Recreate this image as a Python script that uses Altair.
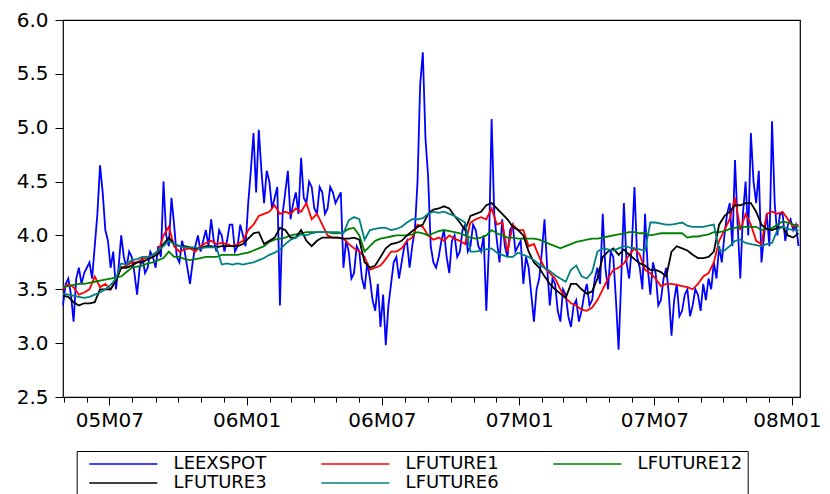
import altair as alt
import pandas as pd

series_names = ["LEEXSPOT", "LFUTURE1", "LFUTURE12", "LFUTURE3", "LFUTURE6"]
series_colors = ["#0000ff", "#ff0000", "#008000", "#000000", "#008080"]

start_date = "2005-04-30"
end_date = "2008-01-10"
n_obs = 140          # weekly observations of the futures
n_obs_spot = 279     # half-weekly observations of the spot series

leexspot = [
    3.35, 3.55, 3.6, 3.45, 3.2, 3.6, 3.7, 3.55, 3.65, 3.7, 3.75, 3.6, 3.9, 4.2, 4.65, 4.4, 4.05, 3.95, 3.7, 3.85,
    3.5, 3.7, 4.0, 3.8, 3.7, 3.85, 3.8, 3.65, 3.45, 3.7, 3.8, 3.65, 3.7, 3.85, 3.8, 3.7, 3.9, 3.8, 4.5, 4.0,
    3.9, 4.35, 4.1, 3.8, 3.75, 3.95, 3.85, 3.7, 3.55, 3.75, 3.9, 4.0, 3.85, 3.95, 4.05, 3.9, 4.15, 3.95, 3.85, 4.05,
    4.0, 3.85, 3.95, 4.1, 4.1, 3.85, 3.9, 4.1, 4.0, 3.9, 4.3, 4.6, 4.95, 4.4, 4.98, 4.6, 4.3, 4.6, 4.5, 4.25,
    4.35, 4.45, 3.35, 4.2, 4.4, 4.6, 4.15, 4.3, 4.4, 4.2, 4.72, 4.35, 4.3, 4.5, 4.45, 4.25, 4.2, 4.45, 4.4, 4.2,
    4.25, 4.45, 4.4, 4.3, 4.35, 4.4, 3.7, 3.95, 3.85, 3.6, 3.65, 3.9, 3.85, 3.6, 3.5, 3.75, 3.6, 3.4, 3.3, 3.55,
    3.15, 3.45, 2.98, 3.35, 3.55, 3.75, 3.8, 3.6, 3.75, 3.9, 3.95, 3.7, 3.9, 4.05, 4.5, 5.4, 5.7, 4.9, 4.55, 3.9,
    3.75, 3.7, 3.8, 3.95, 4.05, 3.8, 3.65, 3.95, 4.0, 3.8, 3.85, 4.05, 4.1, 3.85, 3.9, 4.1, 4.05, 3.9, 3.85, 4.0,
    3.3, 3.9, 5.08, 4.2, 3.95, 3.75, 4.15, 3.9, 3.8, 4.05, 4.1, 3.85, 3.9, 3.95, 3.55, 3.8, 3.7, 3.45, 3.2, 3.5,
    3.6, 3.85, 4.15, 3.7, 3.35, 3.6, 3.55, 3.3, 3.2, 3.5, 3.45, 3.25, 3.15, 3.35, 3.4, 3.2, 3.3, 3.45, 3.55, 3.35,
    3.4, 3.6, 3.7, 3.55, 4.2, 3.7, 3.5, 3.85, 3.8, 3.4, 2.94, 3.6, 4.3, 3.75, 3.6, 3.9, 4.45, 3.8, 3.7, 3.5,
    4.2, 3.7, 3.45, 3.75, 3.65, 3.35, 3.4, 3.6, 3.7, 3.45, 3.07, 3.4, 3.55, 3.25, 3.3, 3.45, 3.5, 3.25, 3.35, 3.5,
    3.45, 3.3, 3.55, 3.4, 3.6, 3.5, 3.75, 3.6, 3.9, 3.75, 4.0, 4.2, 4.3, 3.9, 4.7, 4.1, 3.6, 4.2, 4.5, 4.0,
    4.95, 4.5, 4.3, 4.6, 3.75, 4.0, 4.2, 3.9, 5.06, 4.3, 4.0, 4.2, 4.2, 3.95, 4.1, 4.15, 4.05, 4.1, 3.9,
]

lfuture1 = [
    3.5, 3.55, 3.52, 3.45, 3.47, 3.5, 3.62, 3.52, 3.55, 3.5,
    3.58, 3.7, 3.72, 3.75, 3.75, 3.78, 3.8, 3.82, 3.85, 4.0,
    4.08, 3.9, 3.85, 3.87, 3.88, 3.85, 3.9, 3.93, 3.95, 3.92,
    3.93, 3.92, 3.9, 3.92, 3.95, 4.05, 4.1, 4.18, 4.2, 4.22,
    4.28, 4.2, 4.22, 4.2, 4.25, 4.22, 4.3, 4.15, 4.2, 4.1,
    4.0, 3.98, 3.98, 3.97, 3.92, 3.88, 3.85, 3.8, 3.68, 3.7,
    3.72, 3.78, 3.85, 3.85, 3.88, 3.95, 3.98, 4.1, 4.08, 4.0,
    3.96, 3.98, 3.95, 4.0, 3.97, 3.95, 3.92, 4.12, 4.15, 4.17,
    4.15, 4.25, 4.1, 4.12, 3.85, 4.1, 4.05, 4.05, 3.9, 3.92,
    3.8, 3.7, 3.65, 3.6, 3.5, 3.42, 3.37, 3.35, 3.31, 3.3,
    3.33, 3.4, 3.5, 3.6, 3.68, 3.7, 3.74, 3.82, 3.88, 3.82,
    3.68, 3.65, 3.6, 3.53, 3.55, 3.55, 3.54, 3.53, 3.52, 3.5,
    3.55, 3.62, 3.65, 3.75, 3.95, 4.05, 4.15, 4.35, 4.05, 4.2,
    4.1, 3.95, 3.92, 4.2, 4.22, 4.2, 4.22, 4.15, 4.08, 4.1,
]

lfuture12 = [
    3.52, 3.53, 3.54, 3.55, 3.55, 3.56, 3.57, 3.58, 3.59, 3.6,
    3.61, 3.62, 3.66, 3.7, 3.71, 3.72, 3.74, 3.75, 3.77, 3.79,
    3.85, 3.8, 3.8, 3.78, 3.77, 3.78, 3.79, 3.8, 3.8, 3.8,
    3.82, 3.82, 3.82, 3.82, 3.83, 3.84, 3.86, 3.88, 3.9, 3.94,
    3.96, 3.97, 3.98, 4.0, 4.01, 4.02, 4.03, 4.03, 4.03, 4.03,
    4.03, 4.02, 4.02, 4.03, 4.06, 4.07, 4.0, 3.85, 3.9, 3.95,
    3.97, 3.98, 3.99, 4.0, 4.0, 4.0, 4.01, 4.03, 4.02, 4.0,
    4.02, 4.04, 4.05, 4.04, 4.03, 4.02, 4.0, 3.98, 3.97, 3.98,
    4.0, 4.05, 4.02, 4.0, 3.98, 3.98, 3.97, 3.97, 3.97, 3.97,
    3.96, 3.94, 3.92, 3.9, 3.88, 3.9, 3.92, 3.94, 3.95, 3.96,
    3.97, 3.97, 3.98, 3.99, 4.0, 4.01, 4.02, 4.03, 4.03, 4.02,
    4.02, 4.0, 4.01, 4.02, 4.02, 4.02, 4.02, 4.02, 3.98, 3.99,
    3.99, 4.0, 4.01, 4.03, 4.03, 4.04, 4.06, 4.07, 4.08, 4.08,
    4.08, 4.08, 4.05, 4.06, 4.07, 4.1, 4.13, 4.12, 4.1, 4.08,
]

lfuture3 = [
    3.44, 3.43, 3.38, 3.35, 3.37, 3.37, 3.38, 3.5, 3.5, 3.5,
    3.58, 3.7, 3.7, 3.72, 3.75, 3.75, 3.78, 3.8, 3.83, 3.92,
    3.98, 3.92, 3.9, 3.9, 3.89, 3.88, 3.88, 3.9, 3.9, 3.89,
    3.9, 3.9, 3.9, 3.9, 3.92, 3.97, 4.02, 4.03, 3.92, 3.95,
    3.98, 4.07, 4.05, 3.98, 3.98, 4.05, 3.95, 3.9, 3.95, 3.98,
    3.98, 3.98, 3.98, 3.97, 3.97, 3.98, 3.96, 3.75, 3.7, 3.72,
    3.8, 3.88, 3.92, 3.93, 3.95, 4.0, 4.04, 4.08, 4.1, 4.2,
    4.24, 4.25, 4.27, 4.25, 4.18, 4.12, 4.05, 4.18, 4.2, 4.22,
    4.28, 4.3, 4.25, 4.2, 4.15, 4.08, 4.05, 4.0, 3.85, 3.75,
    3.7, 3.62, 3.55, 3.5, 3.46, 3.42, 3.55, 3.55, 3.5, 3.46,
    3.48, 3.6, 3.8, 3.85, 3.88, 3.82, 3.87, 3.82, 3.78, 3.74,
    3.72, 3.68, 3.68, 3.66, 3.62, 3.85, 3.9, 3.88, 3.86, 3.82,
    3.79, 3.79, 3.8, 3.85, 4.1, 4.18, 4.22, 4.28, 4.28, 4.3,
    4.3, 4.22, 4.1, 4.06, 4.05, 4.07, 4.08, 4.0, 3.98, 4.02,
]

lfuture6 = [
    3.46, 3.45, 3.44, 3.43, 3.42, 3.43, 3.45, 3.47, 3.5, 3.54,
    3.6, 3.74, 3.73, 3.77, 3.78, 3.8, 3.8, 3.82, 3.86, 3.9,
    3.95, 3.92, 3.9, 3.89, 3.89, 3.89, 3.88, 3.89, 3.89, 3.89,
    3.73, 3.74, 3.73, 3.74, 3.73, 3.74, 3.75, 3.77, 3.79, 3.82,
    3.84, 3.87, 3.92, 3.96, 3.98, 4.01, 4.0, 4.02, 4.03, 4.03,
    4.03, 4.03, 4.03, 4.02, 4.14, 4.17, 4.15, 3.96, 4.05, 4.06,
    4.07, 4.07, 4.05, 4.06, 4.08, 4.12, 4.15, 4.15, 4.16, 4.2,
    4.22, 4.21, 4.22, 4.2, 4.18, 4.15, 4.12, 3.85, 3.85, 3.86,
    3.87, 3.88, 3.84, 3.82, 3.8, 3.8, 3.84, 3.82, 3.8, 3.77,
    3.73, 3.7, 3.67, 3.63, 3.6, 3.57, 3.68, 3.72, 3.62, 3.6,
    3.66, 3.85, 3.88, 3.87, 3.86, 3.88, 3.9, 3.89, 3.88, 3.87,
    3.86, 4.12, 4.12, 4.11, 4.1, 4.1, 4.11, 4.12, 4.09, 4.08,
    4.08, 4.08, 4.09, 4.1, 3.86, 3.86, 3.9, 3.95, 3.96, 3.93,
    3.92, 3.91, 3.9, 3.92, 3.93, 4.05, 4.08, 4.06, 4.05, 4.05,
]

y_ticks = [2.5, 3.0, 3.5, 4.0, 4.5, 5.0, 5.5, 6.0]

dates = pd.date_range(start_date, end_date, periods=n_obs)
spot_dates = pd.date_range(start_date, end_date, periods=n_obs_spot)

rows = []
for d, v in zip(spot_dates, leexspot):
    rows.append({"date": d, "series": "LEEXSPOT", "value": v})
for name, vals in zip(series_names[1:], [lfuture1, lfuture12, lfuture3, lfuture6]):
    for d, v in zip(dates, vals):
        rows.append({"date": d, "series": name, "value": v})
df = pd.DataFrame(rows)

# tick positions: monthly minor ticks and half-yearly labelled ticks
minor_ticks = []
yy, mm = 2005, 5
while (yy, mm) <= (2008, 1):
    minor_ticks.append(alt.DateTime(year=yy, month=mm, date=1))
    mm += 1
    if mm > 12:
        mm = 1
        yy += 1
major_ticks = [alt.DateTime(year=a, month=b, date=1)
               for a, b in [(2005, 7), (2006, 1), (2006, 7), (2007, 1), (2007, 7), (2008, 1)]]

x_scale = alt.Scale(domain=[alt.DateTime(year=2005, month=4, date=30),
                            alt.DateTime(year=2008, month=1, date=12)], nice=False)
y_scale = alt.Scale(domain=[2.5, 6.0], nice=False, zero=False)

base = alt.Chart(df)

lines = base.mark_line(strokeWidth=1.8).encode(
    x=alt.X("date:T", scale=x_scale, title=None,
            axis=alt.Axis(values=minor_ticks, tickSize=5, labels=False,
                          domain=False, grid=False, orient="bottom")),
    y=alt.Y("value:Q", scale=y_scale, title=None,
            axis=alt.Axis(values=y_ticks, format=".1f", tickSize=8, domain=False,
                          grid=False, labelPadding=7)),
    color=alt.Color("series:N",
                    scale=alt.Scale(domain=series_names, range=series_colors),
                    legend=alt.Legend(
                        orient="none", legendX=13.7, legendY=431.0, columns=3,
                        direction="horizontal", title=None, symbolType="stroke",
                        symbolSize=4624, symbolStrokeWidth=1.5, clipHeight=16,
                        rowPadding=1, columnPadding=35, padding=5,
                        symbolOffset=6.6, labelOffset=15.3, strokeColor="black",
                        fillColor="white", labelFont="DejaVu Sans",
                        labelFontSize=18, labelColor="black", gridAlign="all",
                        labelLimit=0)),
)

major = base.mark_line(opacity=0).encode(
    x=alt.X("date:T", scale=x_scale, title=None,
            axis=alt.Axis(values=major_ticks, tickSize=8, format="%yM%m",
                          domain=False, grid=False, orient="bottom",
                          labelPadding=5, labelFlush=False, labelOverlap=False,
                          labelOffset={"condition": {"test": "year(datum.value) >= 2008",
                                                     "value": -5},
                                       "value": 0})),
    y=alt.Y("value:Q", scale=y_scale),
    detail="series:N",
)

chart = alt.layer(lines, major).resolve_axis(x="independent").properties(
    width=737, height=377,
    padding={"left": 55, "top": 12, "right": 22, "bottom": 97},
    autosize=alt.AutoSizeParams(type="none"),
    background="white",
).configure_view(
    stroke="black", strokeWidth=1.2
).configure_axis(
    labelFont="DejaVu Sans", labelFontSize=20, labelColor="black",
    tickColor="black", tickWidth=1
)

chart.save("out.html", embed_options={"renderer": "svg", "actions": False})
